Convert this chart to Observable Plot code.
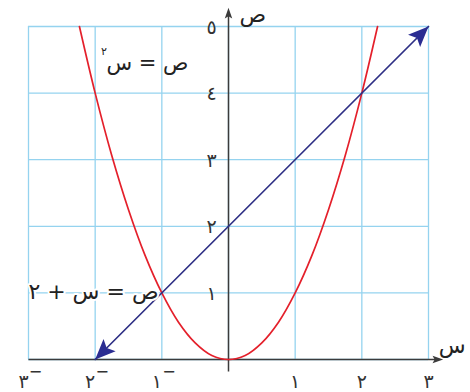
<!DOCTYPE html>
<html>
<head>
<meta charset="utf-8">
<script src="https://cdn.jsdelivr.net/npm/d3@7"></script>
<script src="https://cdn.jsdelivr.net/npm/@observablehq/plot@0.6"></script>
<style>
  html, body { margin: 0; padding: 0; background: #fff; }
  #chart svg { display: block; }
</style>
</head>
<body>
<div id="chart"></div>
<script>
// Grid / tick values
const xTicks = [-3, -2, -1, 1, 2, 3];
const xTickLabels = ["٣⁻", "٢⁻", "١⁻", "١", "٢", "٣"];
const yTicks = [1, 2, 3, 4, 5];
const yTickLabels = ["١", "٢", "٣", "٤", "٥"];
const gridX = [-3, -2, -1, 0, 1, 2, 3];
const gridY = [0, 1, 2, 3, 4, 5];

// Parabola ص = س²
const parabolaX = [-2.236, -2, -1.75, -1.5, -1.25, -1, -0.75, -0.5, -0.25, 0, 0.25, 0.5, 0.75, 1, 1.25, 1.5, 1.75, 2, 2.236];
const parabolaY = [5, 4, 3.06, 2.25, 1.56, 1, 0.56, 0.25, 0.06, 0, 0.06, 0.25, 0.56, 1, 1.56, 2.25, 3.06, 4, 5];

// Line ص = س + ٢ (endpoints)
const lineX = [-2, 3];
const lineY = [0, 5];

// Axis labels and equation labels
const xAxisName = "س";
const yAxisName = "ص";
const eqParabola = "ص = س";
const eqParabolaPow = "٢";
const eqLine = "ص = س + ٢";

const parabola = parabolaX.map((x, i) => ({x, y: parabolaY[i]}));
const line = lineX.map((x, i) => ({x, y: lineY[i]}));
const xTickData = xTicks.map((x, i) => ({
  x,
  digit: xTickLabels[i].replace("⁻", ""),
  neg: xTickLabels[i].includes("⁻")
}));
const negTicks = xTickData.filter(d => d.neg);
const posTicks = xTickData.filter(d => !d.neg);

const RED = "#e4202b";
const BLUE = "#2e2f85";
const HEAD = "#2b2d92";
const GRID = "#95d3ef";
const AXIS = "#3b3b3b";
const FONT = "DejaVu Sans, sans-serif";

// Notched arrowhead symbol: tip at origin, pointing up
const arrowHead = {
  draw(ctx, size) {
    const s = Math.sqrt(size);
    ctx.moveTo(0, 0);
    ctx.lineTo(0.42 * s, 1.0 * s);
    ctx.lineTo(0, 0.8 * s);
    ctx.lineTo(-0.42 * s, 1.0 * s);
    ctx.closePath();
  }
};
const axisHead = {
  draw(ctx, size) {
    const s = Math.sqrt(size);
    ctx.moveTo(0, 0);
    ctx.lineTo(0.35 * s, 1.0 * s);
    ctx.lineTo(0, 0.8 * s);
    ctx.lineTo(-0.35 * s, 1.0 * s);
    ctx.closePath();
  }
};

const chart = Plot.plot({
  width: 470,
  height: 392,
  marginLeft: 28,
  marginRight: 42,
  marginTop: 26,
  marginBottom: 33,
  x: {domain: [-3, 3], axis: null},
  y: {domain: [0, 5], axis: null},
  style: {background: "#fff", fontFamily: FONT},
  marks: [
    Plot.ruleX(gridX, {x: d => d, y1: 0, y2: 5, stroke: GRID, strokeWidth: 1.3}),
    Plot.ruleY(gridY, {y: d => d, x1: -3, x2: 3, stroke: GRID, strokeWidth: 1.3}),
    // axes
    Plot.link([{x1: -3, y1: 0, x2: 3.15, y2: 0}], {x1: "x1", y1: "y1", x2: "x2", y2: "y2", stroke: AXIS, strokeWidth: 1.5}),
    Plot.link([{x1: 0, y1: -0.18, x2: 0, y2: 5.22}], {x1: "x1", y1: "y1", x2: "x2", y2: "y2", stroke: AXIS, strokeWidth: 1.5}),
    Plot.dot([{x: 3.22, y: 0, r: 90}], {x: "x", y: "y", rotate: "r", symbol: axisHead, r: 6, fill: AXIS, stroke: "none"}),
    Plot.dot([{x: 0, y: 5.28, r: 0}], {x: "x", y: "y", rotate: "r", symbol: axisHead, r: 6, fill: AXIS, stroke: "none"}),
    // tick labels
    Plot.text(posTicks, {x: "x", y: 0, dy: 22, text: "digit", fontSize: 19, fill: "#333"}),
    Plot.text(negTicks, {x: "x", y: 0, dy: 22, dx: -5, text: "digit", fontSize: 19, fill: "#333"}),
    Plot.text(negTicks, {x: "x", y: 0, dy: 12, dx: 7, text: () => "−", fontSize: 16, fill: "#333"}),
    Plot.text(yTicks, {x: 0, y: d => d, dx: -17, dy: 1, text: (d, i) => yTickLabels[i], fontSize: 19, fill: "#333"}),
    // axis names
    Plot.text([yAxisName], {x: 0, y: 5.27, dx: 11, dy: 6, text: d => d, textAnchor: "start", fontSize: 22, fill: "#222"}),
    Plot.text([xAxisName], {x: 3.2, y: 0, dx: -3, dy: -14, text: d => d, textAnchor: "start", fontSize: 22, fill: "#222"}),
    // parabola
    Plot.line(parabola, {x: "x", y: "y", curve: "catmull-rom", stroke: RED, strokeWidth: 1.7}),
    // line with arrows
    Plot.line(line, {x: "x", y: "y", stroke: BLUE, strokeWidth: 1.7}),
    Plot.dot([{x: 3, y: 5, r: 45}, {x: -2, y: 0, r: 225}], {x: "x", y: "y", rotate: "r", symbol: arrowHead, r: 11.5, fill: HEAD, stroke: "none"}),
    // equation labels
    Plot.text([eqParabola], {x: -0.6, y: 4.45, text: d => d, textAnchor: "end", fontSize: 21, fill: "#222"}),
    Plot.text([eqParabolaPow], {x: -1.87, y: 4.62, text: d => d, textAnchor: "middle", fontSize: 11, fill: "#222"}),
    Plot.text([eqLine], {x: -1.05, y: 1.02, text: d => d, textAnchor: "end", fontSize: 22, fill: "#222", stroke: "#fff", strokeWidth: 4})
  ]
});
document.getElementById("chart").appendChild(chart);
</script>
</body>
</html>
